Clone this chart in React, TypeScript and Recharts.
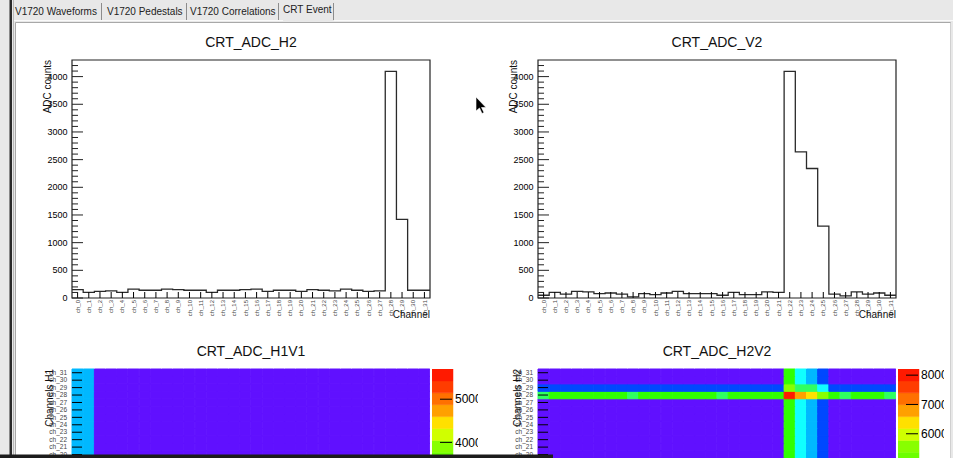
import React from 'react';
import { ComposedChart, Line, XAxis, YAxis, ReferenceArea, BarChart, Bar, Cell } from 'recharts';

const FONT = "'Liberation Sans', Arial, Helvetica, sans-serif";

const tabs = ['V1720 Waveforms', 'V1720 Pedestals', 'V1720 Correlations', 'CRT Event'];

const channels = [
  'ch_0', 'ch_1', 'ch_2', 'ch_3', 'ch_4', 'ch_5', 'ch_6', 'ch_7',
  'ch_8', 'ch_9', 'ch_10', 'ch_11', 'ch_12', 'ch_13', 'ch_14', 'ch_15',
  'ch_16', 'ch_17', 'ch_18', 'ch_19', 'ch_20', 'ch_21', 'ch_22', 'ch_23',
  'ch_24', 'ch_25', 'ch_26', 'ch_27', 'ch_28', 'ch_29', 'ch_30', 'ch_31',
];

// ADC counts per channel, module 2
const adcH2 = [150, 100, 120, 130, 100, 160, 140, 140, 160, 150, 140, 140, 100, 140, 140, 150,
  160, 120, 140, 140, 120, 150, 140, 130, 160, 140, 120, 130, 4095, 1420, 140, 140];
const adcV2 = [50, 100, 70, 120, 110, 80, 90, 70, 20, 80, 60, 90, 120, 80, 80, 80,
  50, 100, 60, 60, 110, 100, 4095, 2640, 2340, 1300, 70, 40, 110, 70, 90, 50];

// module 1, only seen through the H1V1 map
const adcH1 = [120, 110, 130, 100, 120, 140, 110, 120, 130, 100, 120, 110, 130, 120, 100, 110,
  120, 130, 110, 120, 100, 120, 110, 130, 120, 110, 100, 120, 130, 110, 120, 110];
const adcV1 = [1500, 1540, 80, 90, 70, 100, 80, 90, 110, 70, 80, 90, 100, 80, 70, 90,
  80, 100, 90, 80, 70, 90, 100, 80, 90, 70, 80, 100, 90, 80, 70, 90];

const countTicks = [0, 500, 1000, 1500, 2000, 2500, 3000, 3500, 4000];
const countMax = 4300;

const zRangeH1V1 = [186, 5700];
const zRangeH2V2 = [90, 8210];
const zTicksH1V1 = [4000, 5000];
const zTicksH2V2 = [6000, 7000, 8000];

// 20 contour colours, low -> high
const palette = [
  '#6010ff', '#3c20ff', '#1a30ff', '#0048ff', '#0080ff', '#00b8ff', '#10ffff', '#10ffd0',
  '#20ffa0', '#30ff60', '#30ff00', '#50ff00', '#6cff00', '#88ff00', '#d0ff00', '#ffe000',
  '#ffa000', '#ff7000', '#ff3c00', '#ff1a00',
];

const centers = channels.map((_, i) => i + 0.5);

// the window ends at y = 458, nothing below it is drawn
const PAGE_BOTTOM = 458;

function zColor(z: number, range: number[]) {
  const k = Math.floor(((z - range[0]) / (range[1] - range[0])) * palette.length);
  return palette[Math.max(0, Math.min(palette.length - 1, k))];
}

const BinTick = (p: any) => {
  const { x, y, payload } = p;
  const ty = y + 2;
  return (
    <g>
      <line x1={x} y1={y} x2={x} y2={y - 6} stroke="#000" />
      <text x={x} y={ty} transform={`rotate(-90 ${x} ${ty})`} textAnchor="end" dy="0.35em"
        fontSize={6} fontFamily={FONT} fill="#444">{channels[Math.floor(payload.value)]}</text>
    </g>
  );
};

const CountTick = (p: any) => {
  const { x, y, payload } = p;
  const major = countTicks.includes(payload.value);
  return (
    <g>
      <line x1={x} y1={y} x2={x + (major ? 11 : 6)} y2={y} stroke="#222" />
      {major && (
        <text x={x - 4.5} y={y} dy="0.35em" textAnchor="end" fontSize={9} fontFamily={FONT} fill="#000">
          {payload.value}
        </text>
      )}
    </g>
  );
};

const ChannelTick = (p: any) => {
  const { x, y, payload } = p;
  if (y + 340 > PAGE_BOTTOM + 2) return <g />;
  return (
    <g>
      <line x1={x} y1={y} x2={x + 10} y2={y} stroke="#000" />
      <text x={x - 5} y={y} dy="0.35em" textAnchor="end" fontSize={6.5} fontFamily={FONT} fill="#444">
        {channels[Math.floor(payload.value)]}
      </text>
    </g>
  );
};

const ZTick = (p: any) => {
  const { x, y, payload } = p;
  return (
    <g>
      <line x1={x - 13} y1={y} x2={x - 1} y2={y} stroke="#000" />
      <text x={x + 2} y={y} dy="0.35em" fontSize={12} fontFamily={FONT} fill="#000">{payload.value}</text>
    </g>
  );
};

function Histogram({ values, frameLeft }: { values: number[]; frameLeft: number }) {
  const data = values.map((v, i) => ({ x: i, v }));
  data.push({ x: values.length, v: values[values.length - 1] });
  const minor: number[] = [];
  for (let t = 0; t < countMax; t += 100) minor.push(t);
  return (
    <div style={{ position: 'absolute', left: frameLeft - 72, top: 0 }}>
      <ComposedChart width={480} height={330} data={data} margin={{ top: 60, right: 50, bottom: 0, left: 0 }}>
        <ReferenceArea x1={0} x2={channels.length} y1={0} y2={countMax} fill="none" stroke="#222" strokeWidth={1.2} />
        <Line type="stepAfter" dataKey="v" stroke="#2a2a2a" strokeWidth={1.3} dot={false} isAnimationActive={false} />
        <XAxis dataKey="x" type="number" domain={[0, channels.length]} ticks={centers} interval={0} height={32}
          tickSize={0} tickMargin={0} axisLine={false} tickLine={false} tick={BinTick} />
        <YAxis type="number" domain={[0, countMax]} ticks={minor} interval={0} width={72}
          tickSize={0} tickMargin={0} axisLine={false} tickLine={false} tick={CountTick} />
      </ComposedChart>
    </div>
  );
}

function Heatmap({ rows, cols, zRange, frameLeft }: { rows: number[]; cols: number[]; zRange: number[]; frameLeft: number }) {
  const data = channels.map((name) => {
    const d: any = { name };
    channels.forEach((_, j) => { d['r' + j] = 1; });
    return d;
  });
  return (
    <div style={{ position: 'absolute', left: frameLeft - 72, top: 340 }}>
      <BarChart width={430} height={300} data={data} margin={{ top: 29, right: 0, bottom: 33, left: 0 }}
        barCategoryGap={0} barGap={0}>
        <XAxis dataKey="name" hide />
        {channels.map((_, j) => (
          <Bar key={j} dataKey={'r' + j} stackId="m" isAnimationActive={false}>
            {channels.map((__, i) => {
              const c = zColor(rows[j] + cols[i], zRange);
              return <Cell key={i} fill={c} stroke={c} strokeWidth={1} />;
            })}
          </Bar>
        ))}
        <YAxis type="number" domain={[0, channels.length]} ticks={centers} interval={0} width={72}
          tickSize={0} tickMargin={0} axisLine={false} tickLine={false} tick={ChannelTick} />
      </BarChart>
    </div>
  );
}

function ColorBar({ zRange, ticks, barLeft }: { zRange: number[]; ticks: number[]; barLeft: number }) {
  const step = (zRange[1] - zRange[0]) / palette.length;
  const row: any = { name: 'z', base: zRange[0] };
  palette.forEach((_, k) => { row['b' + k] = step; });
  return (
    <div style={{ position: 'absolute', left: barLeft, top: 340 }}>
      <BarChart width={81} height={300} data={[row]} margin={{ top: 29, right: 0, bottom: 33, left: 0 }}
        barCategoryGap={0} barGap={0}>
        <XAxis dataKey="name" hide />
        <Bar dataKey="base" stackId="z" fill="transparent" isAnimationActive={false} />
        {palette.map((c, k) => (
          <Bar key={k} dataKey={'b' + k} stackId="z" fill={c} stroke={c} strokeWidth={0.5} isAnimationActive={false} />
        ))}
        <YAxis orientation="right" type="number" domain={zRange} allowDataOverflow ticks={ticks} interval={0}
          width={60} tickSize={0} tickMargin={0} axisLine={false} tickLine={false} tick={ZTick} />
      </BarChart>
    </div>
  );
}

function Chrome() {
  const tabX = [15, 107, 190, 283];
  const sepX = [101.5, 186.5, 278.5, 333.5];
  return (
    <svg width={953} height={458} style={{ position: 'absolute', left: 0, top: 0 }}>
      <rect x={0} y={0} width={953} height={458} fill="#e8e8e8" />
      <rect x={9.5} y={0} width={2.5} height={458} fill="#2a2a2a" />
      <line x1={13.5} y1={0} x2={13.5} y2={458} stroke="#b8b8b8" />
      <rect x={16} y={23} width={935} height={435} fill="#fff" />
      <line x1={15.5} y1={22.5} x2={951} y2={22.5} stroke="#a8a8a8" />
      <line x1={15.5} y1={22.5} x2={15.5} y2={458} stroke="#a8a8a8" />
      <line x1={950.5} y1={22.5} x2={950.5} y2={458} stroke="#d0d0d0" />
      <line x1={14} y1={20.5} x2={283} y2={20.5} stroke="#fafafa" />
      <line x1={334} y1={20.5} x2={953} y2={20.5} stroke="#fafafa" />
      {sepX.map((x, i) => (
        <line key={i} x1={x} y1={3} x2={x} y2={20} stroke="#8c8c8c" />
      ))}
      {tabs.map((t, i) => (
        <text key={t} x={tabX[i]} y={i === 3 ? 12.5 : 14.5} fontSize={10} fontFamily={FONT} fill="#222">{t}</text>
      ))}
    </svg>
  );
}

function Labels() {
  const title = { fontSize: 14, fontFamily: FONT, fill: '#111', textAnchor: 'middle' as const };
  const axis = { fontSize: 10, fontFamily: FONT, fill: '#111' };
  return (
    <svg width={953} height={458} style={{ position: 'absolute', left: 0, top: 0, pointerEvents: 'none' }}>
      <text x={251} y={47} {...title}>CRT_ADC_H2</text>
      <text x={717} y={47} {...title}>CRT_ADC_V2</text>
      <text x={251} y={356} {...title}>CRT_ADC_H1V1</text>
      <text x={717} y={356} {...title}>CRT_ADC_H2V2</text>
      <text x={51} y={60} transform="rotate(-90 51 60)" textAnchor="end" {...axis}>ADC counts</text>
      <text x={517} y={60} transform="rotate(-90 517 60)" textAnchor="end" {...axis}>ADC counts</text>
      <text x={430} y={318} textAnchor="end" {...axis}>Channel</text>
      <text x={896} y={318} textAnchor="end" {...axis}>Channel</text>
      <text x={53} y={369} transform="rotate(-90 53 369)" textAnchor="end" {...axis}>Channels H1</text>
      <text x={521} y={369} transform="rotate(-90 521 369)" textAnchor="end" {...axis}>Channels H2</text>
      <polygon points="476,97 476,111 479.5,108 482,113.5 484,112.5 481.5,107.5 486,107.5"
        fill="#000" stroke="#fff" strokeWidth={0.6} />
      <rect x={0} y={454.5} width={553} height={4} fill="#1c1c1c" />
    </svg>
  );
}

export default function App() {
  return (
    <div style={{ position: 'absolute', left: 0, top: 0, width: 953, height: 458, overflow: 'hidden' }}>
      <Chrome />
      <Histogram values={adcH2} frameLeft={72} />
      <Histogram values={adcV2} frameLeft={538} />
      <div style={{ position: 'absolute', left: 0, top: 0, width: 478, height: 458, overflow: 'hidden' }}>
        <Heatmap rows={adcH1} cols={adcV1} zRange={zRangeH1V1} frameLeft={72} />
        <ColorBar zRange={zRangeH1V1} ticks={zTicksH1V1} barLeft={432} />
      </div>
      <div style={{ position: 'absolute', left: 0, top: 0, width: 944, height: 458, overflow: 'hidden' }}>
        <Heatmap rows={adcH2} cols={adcV2} zRange={zRangeH2V2} frameLeft={538} />
        <ColorBar zRange={zRangeH2V2} ticks={zTicksH2V2} barLeft={898} />
      </div>
      <Labels />
    </div>
  );
}
